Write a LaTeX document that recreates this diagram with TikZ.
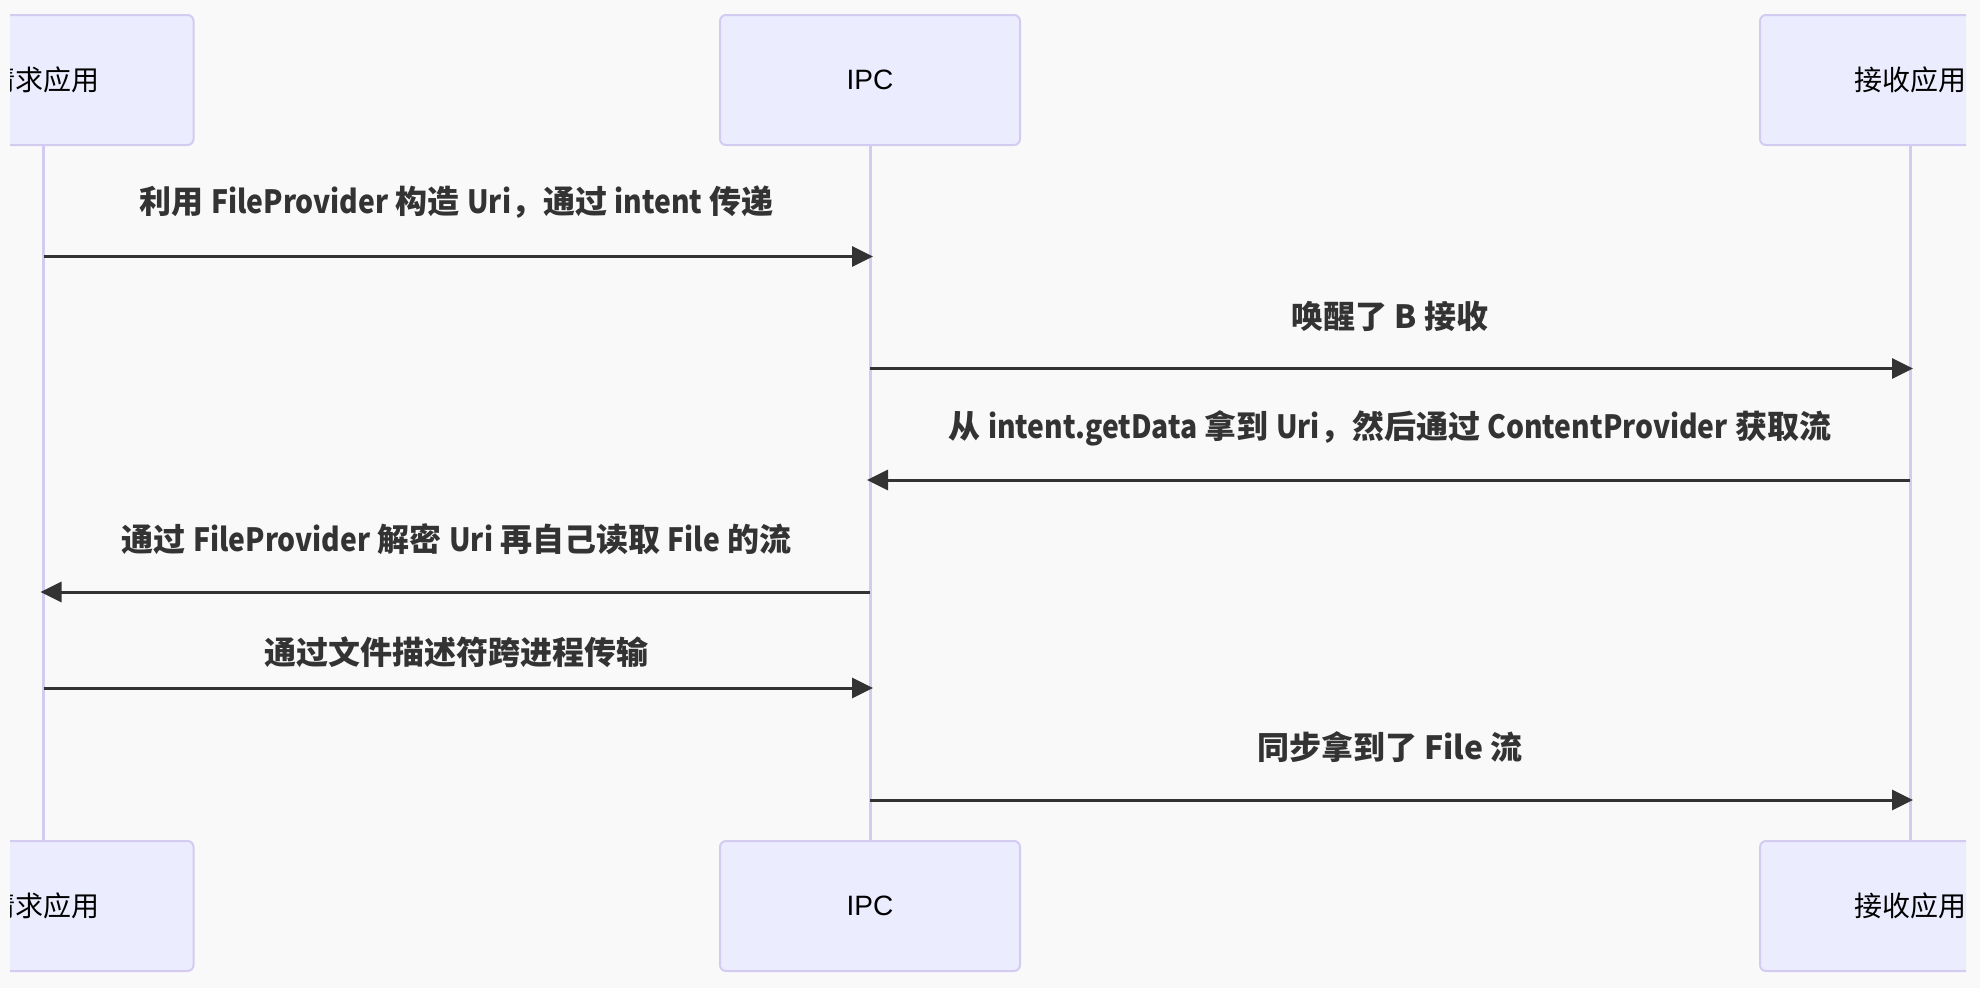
\documentclass[tikz,border=0pt]{standalone}
\usepackage{fontspec}
\usepackage{graphicx}
\newfontfamily\cjk{Noto Sans CJK SC}
\newfontfamily\latsans{Liberation Sans}
\newcommand{\lw}[1]{\scalebox{0.885}[1]{#1}}
\usetikzlibrary{arrows.meta}
\definecolor{bg}{RGB}{249,249,249}
\definecolor{actfill}{RGB}{236,236,255}
\definecolor{actline}{RGB}{212,204,240}
\definecolor{msg}{RGB}{51,51,51}
\begin{document}
\begin{tikzpicture}[x=1pt,y=-1pt,
  actor/.style={draw=actline, line width=2pt, fill=actfill, rounded corners=6pt,
    minimum width=300pt, minimum height=130pt, inner sep=0pt,
    font=\cjk\fontsize{28}{34}\selectfont, text=black},
  life/.style={draw=actline, line width=3pt},
  msgline/.style={draw=msg, line width=3pt, -{Triangle[length=21pt,width=20pt]}},
  msglabel/.style={font=\cjk\bfseries\fontsize{32}{38}\selectfont, text=msg, inner sep=0pt}]
\useasboundingbox (0,0) rectangle (1980,988);
\fill[bg] (0,0) rectangle (1980,988);
\begin{scope}
\clip (10,0) rectangle (1966,988);
% actors
\node[actor] (Atop) at (43.5,80) {请求应用};
\node[actor] (Ptop) at (870,80) {\latsans IPC};
\node[actor] (Btop) at (1910,80) {接收应用};
\node[actor] (Abot) at (43.5,906) {请求应用};
\node[actor] (Pbot) at (870,906) {\latsans IPC};
\node[actor] (Bbot) at (1910,906) {接收应用};
% lifelines
\draw[life] (Atop.south) -- (Abot.north);
\draw[life] (Ptop.south) -- (Pbot.north);
\draw[life] (Btop.south) -- (Bbot.north);
% message end points
\coordinate (m1s) at (43.5,256.5);  \coordinate (m1e) at (873,256.5);
\coordinate (m2s) at (870,368.5);   \coordinate (m2e) at (1913,368.5);
\coordinate (m3s) at (1910,480);    \coordinate (m3e) at (867,480);
\coordinate (m4s) at (870,592);     \coordinate (m4e) at (40.5,592);
\coordinate (m5s) at (43.5,688);    \coordinate (m5e) at (873,688);
\coordinate (m6s) at (870,800);     \coordinate (m6e) at (1913,800);
% messages
\draw[msgline] (m1s) -- (m1e);
\draw[msgline] (m2s) -- (m2e);
\draw[msgline] (m3s) -- (m3e);
\draw[msgline] (m4s) -- (m4e);
\draw[msgline] (m5s) -- (m5e);
\draw[msgline] (m6s) -- (m6e);
% labels
\node[msglabel] (l1) at (456.75,202) {利用 \lw{FileProvider} 构造 \lw{Uri}，通过 \lw{intent} 传递};
\node[msglabel] (l2) at (1390,316) {唤醒了 B 接收};
\node[msglabel] (l3) at (1390,428) {从 \lw{intent.getData} 拿到 \lw{Uri}，然后通过 \lw{ContentProvider} 获取流};
\node[msglabel] (l4) at (456.75,539) {通过 \lw{FileProvider} 解密 \lw{Uri} 再自己读取 \lw{File} 的流};
\node[msglabel] (l5) at (456.75,652) {通过文件描述符跨进程传输};
\node[msglabel] (l6) at (1390,747) {同步拿到了 File 流};
\end{scope}
\end{tikzpicture}
\end{document}
